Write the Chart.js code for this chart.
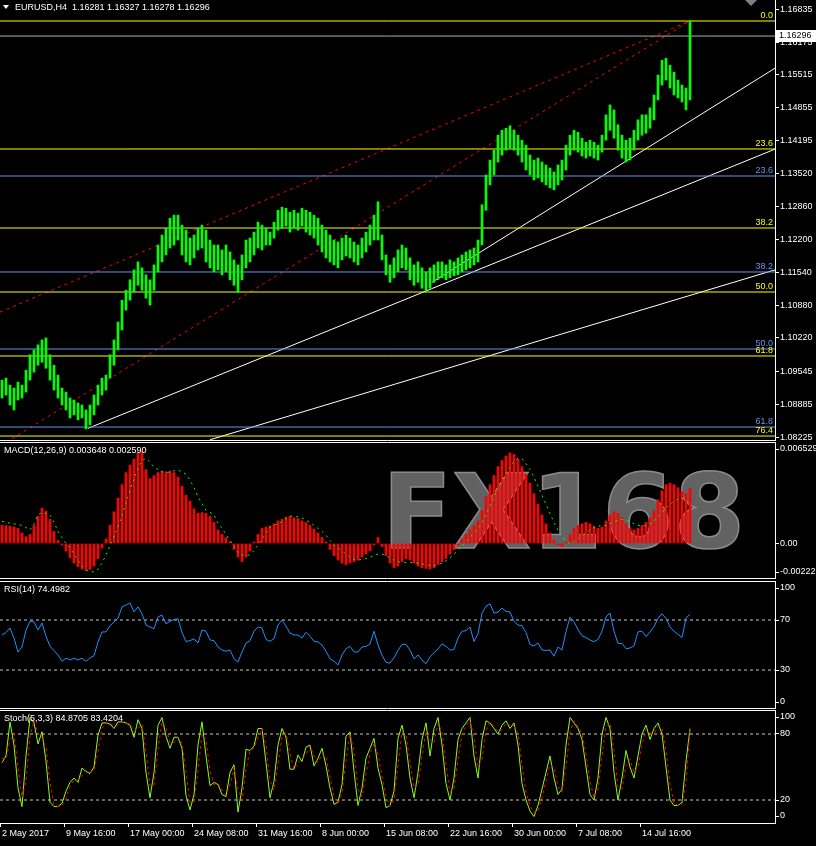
<!DOCTYPE html>
<html>
<head>
<meta charset="utf-8">
<title>EURUSD,H4</title>
<script src="https://cdn.jsdelivr.net/npm/chart.js@4.4.0/dist/chart.umd.min.js"></script>
<style>
  html, body { margin: 0; padding: 0; background: #000; }
  body { width: 816px; height: 846px; position: relative; overflow: hidden; }
  canvas { position: absolute; left: 0; }
</style>
</head>
<body>
<canvas id="price" width="816" height="441" style="top:0;width:816px;height:441px"></canvas>
<canvas id="macd" width="816" height="137" style="top:442px;width:816px;height:137px"></canvas>
<canvas id="rsi" width="816" height="128" style="top:581px;width:816px;height:128px"></canvas>
<canvas id="stoch" width="816" height="136" style="top:710px;width:816px;height:136px"></canvas>
<script>
// EURUSD H4, 2 May - 18 Jul 2017, one column = two H4 bars

const highs = [
  1.0937,1.0941,1.0927,1.0921,1.0933,1.0927,1.0957,1.0988,1.0998,1.1008,
  1.1018,1.1022,1.0988,1.0967,1.0947,1.0921,1.0913,1.0901,1.0897,1.0891,
  1.0887,1.0877,1.0887,1.0907,1.0927,1.0941,1.0947,1.0988,1.1018,1.1054,
  1.1098,1.1118,1.1139,1.1159,1.1175,1.1163,1.1149,1.1139,1.1169,1.1209,
  1.1229,1.1243,1.1263,1.1269,1.1269,1.1249,1.1239,1.1223,1.1229,1.1243,
  1.1249,1.1239,1.1219,1.1209,1.1209,1.1199,1.1209,1.1195,1.1179,1.1169,
  1.1189,1.1219,1.1223,1.1235,1.1255,1.1249,1.1243,1.1235,1.1255,1.1279,
  1.1285,1.1283,1.1275,1.1279,1.1273,1.1283,1.1279,1.1275,1.1269,1.1263,
  1.1249,1.1239,1.1229,1.1219,1.1215,1.1223,1.1229,1.1223,1.1215,1.1209,
  1.1223,1.1235,1.1249,1.1269,1.1296,1.1229,1.1189,1.1169,1.1183,1.1199,
  1.1209,1.1203,1.1183,1.1169,1.1175,1.1163,1.1155,1.1163,1.1169,1.1175,
  1.1175,1.1169,1.1179,1.1175,1.1183,1.1189,1.1195,1.1199,1.1203,1.1219,
  1.1290,1.1350,1.1380,1.1400,1.1430,1.1440,1.1444,1.1449,1.1440,1.1430,
  1.1420,1.1410,1.1390,1.1380,1.1384,1.1376,1.1370,1.1364,1.1356,1.1370,
  1.1380,1.1410,1.1430,1.1440,1.1436,1.1424,1.1416,1.1420,1.1416,1.1410,
  1.1430,1.1471,1.1491,1.1481,1.1451,1.1430,1.1420,1.1424,1.1440,1.1461,
  1.1471,1.1471,1.1485,1.1511,1.1551,1.1581,1.1585,1.1571,1.1557,1.1541,
  1.1531,1.1525,1.1660
];
const lows = [
  1.0901,1.0907,1.0887,1.0877,1.0897,1.0901,1.0913,1.0937,1.0953,1.0967,
  1.0973,1.0961,1.0937,1.0917,1.0901,1.0887,1.0877,1.0861,1.0867,1.0857,
  1.0861,1.0839,1.0847,1.0867,1.0887,1.0907,1.0917,1.0941,1.0967,1.0998,
  1.1038,1.1078,1.1098,1.1114,1.1128,1.1118,1.1102,1.1088,1.1118,1.1155,
  1.1175,1.1189,1.1203,1.1209,1.1219,1.1189,1.1175,1.1169,1.1183,1.1199,
  1.1203,1.1175,1.1163,1.1155,1.1159,1.1149,1.1155,1.1139,1.1128,1.1114,
  1.1139,1.1163,1.1175,1.1189,1.1203,1.1199,1.1209,1.1209,1.1223,1.1239,
  1.1243,1.1247,1.1235,1.1243,1.1239,1.1247,1.1235,1.1229,1.1223,1.1209,
  1.1195,1.1183,1.1175,1.1169,1.1163,1.1179,1.1187,1.1183,1.1175,1.1169,
  1.1183,1.1195,1.1209,1.1219,1.1219,1.1179,1.1149,1.1134,1.1143,1.1155,
  1.1163,1.1159,1.1139,1.1128,1.1134,1.1122,1.1118,1.1122,1.1134,1.1139,
  1.1143,1.1139,1.1143,1.1147,1.1149,1.1155,1.1159,1.1163,1.1169,1.1175,
  1.1209,1.1279,1.1330,1.1350,1.1376,1.1390,1.1400,1.1404,1.1400,1.1390,
  1.1376,1.1360,1.1350,1.1340,1.1344,1.1336,1.1330,1.1324,1.1320,1.1330,
  1.1340,1.1360,1.1390,1.1400,1.1396,1.1388,1.1384,1.1388,1.1384,1.1380,
  1.1396,1.1420,1.1440,1.1424,1.1400,1.1384,1.1376,1.1380,1.1400,1.1420,
  1.1430,1.1434,1.1444,1.1461,1.1501,1.1531,1.1541,1.1525,1.1511,1.1505,
  1.1497,1.1481,1.1501
];
const lastBar = [1.16281, 1.16327, 1.16278, 1.16296];   // O H L C
const priceTicks = [1.16835,1.16175,1.15515,1.14855,1.14195,1.13520,1.12860,
                    1.12200,1.11540,1.10880,1.10220,1.09545,1.08885,1.08225];

// fibo levels and trend lines (column index, price)
const fibYellow = [1.16599,1.14023,1.12432,1.11144,1.09856,1.08245];
const fibYellowText = ['0.0','23.6','38.2','50.0','61.8','76.4'];
const fibBlue = [1.13479,1.11547,1.09997,1.08426];
const fibBlueText = ['23.6','38.2','50.0','61.8'];
const trendWhite = [
  [[21.5, 1.0840], [193.25, 1.1402]],
  [[107.5, 1.1134], [193.25, 1.1565]],
  [[52, 1.0817], [193.25, 1.1159]]
];
const trendRed = [
  [[2.5, 1.0819], [172, 1.1660]],
  [[-0.5, 1.1074], [172, 1.1660]]
];

// MACD(12,26,9)
const macdHist = [
  0.00120,0.00118,0.00115,0.00110,0.00100,0.00070,0.00045,0.00060,0.00120,0.00180,
  0.00235,0.00215,0.00160,0.00080,0.00020,-0.00010,-0.00050,-0.00095,-0.00130,-0.00155,
  -0.00170,-0.00178,-0.00172,-0.00150,-0.00100,-0.00030,0.00030,0.00120,0.00210,0.00300,
  0.00390,0.00470,0.00520,0.00560,0.00600,0.00610,0.00490,0.00430,0.00450,0.00470,
  0.00480,0.00475,0.00480,0.00470,0.00440,0.00380,0.00320,0.00280,0.00230,0.00200,
  0.00205,0.00200,0.00180,0.00140,0.00090,0.00060,0.00040,0.00010,-0.00040,-0.00090,
  -0.00120,-0.00090,-0.00050,0.00010,0.00060,0.00100,0.00110,0.00115,0.00130,0.00150,
  0.00160,0.00175,0.00180,0.00170,0.00165,0.00150,0.00140,0.00120,0.00095,0.00070,
  0.00040,0.00010,-0.00040,-0.00080,-0.00110,-0.00130,-0.00140,-0.00130,-0.00120,-0.00110,
  -0.00090,-0.00070,-0.00050,-0.00010,0.00040,-0.00020,-0.00080,-0.00130,-0.00160,-0.00150,
  -0.00120,-0.00100,-0.00110,-0.00130,-0.00150,-0.00160,-0.00165,-0.00170,-0.00160,-0.00140,
  -0.00120,-0.00100,-0.00070,-0.00040,-0.00010,0.00030,0.00060,0.00090,0.00120,0.00150,
  0.00220,0.00310,0.00390,0.00450,0.00510,0.00550,0.00580,0.00600,0.00590,0.00560,
  0.00510,0.00460,0.00400,0.00330,0.00260,0.00190,0.00130,0.00070,0.00020,-0.00010,
  -0.00020,0.00010,0.00060,0.00100,0.00120,0.00130,0.00140,0.00130,0.00115,0.00100,
  0.00110,0.00150,0.00190,0.00210,0.00200,0.00170,0.00130,0.00100,0.00090,0.00100,
  0.00120,0.00140,0.00170,0.00220,0.00290,0.00350,0.00390,0.00400,0.00390,0.00370,
  0.00345,0.00330,0.00365
];
const macdSignal = [
  0.00147,0.00140,0.00135,0.00130,0.00125,0.00120,0.00105,0.00090,0.00130,0.00190,
  0.00205,0.00200,0.00189,0.00140,0.00080,0.00040,0.00000,-0.00030,-0.00070,-0.00110,
  -0.00150,-0.00178,-0.00185,-0.00189,-0.00170,-0.00130,-0.00075,-0.00017,0.00050,0.00110,
  0.00185,0.00270,0.00355,0.00430,0.00500,0.00550,0.00565,0.00540,0.00505,0.00490,
  0.00475,0.00467,0.00475,0.00482,0.00487,0.00475,0.00460,0.00420,0.00370,0.00310,
  0.00265,0.00220,0.00208,0.00190,0.00130,0.00100,0.00060,0.00023,-0.00020,-0.00060,
  -0.00076,-0.00078,-0.00076,-0.00045,-0.00010,0.00030,0.00065,0.00109,0.00120,0.00130,
  0.00145,0.00165,0.00182,0.00180,0.00177,0.00170,0.00155,0.00140,0.00120,0.00100,
  0.00080,0.00055,0.00020,-0.00010,-0.00030,-0.00050,-0.00070,-0.00090,-0.00105,-0.00110,
  -0.00105,-0.00100,-0.00090,-0.00080,-0.00070,-0.00070,-0.00080,-0.00095,-0.00110,-0.00120,
  -0.00125,-0.00125,-0.00125,-0.00128,-0.00130,-0.00135,-0.00140,-0.00145,-0.00145,-0.00140,
  -0.00130,-0.00115,-0.00095,-0.00070,-0.00045,-0.00020,0.00010,0.00040,0.00070,0.00100,
  0.00140,0.00190,0.00250,0.00310,0.00370,0.00420,0.00470,0.00510,0.00545,0.00565,
  0.00560,0.00530,0.00490,0.00440,0.00380,0.00320,0.00260,0.00200,0.00140,0.00090,
  0.00050,0.00015,0.00000,0.00010,0.00030,0.00050,0.00070,0.00090,0.00105,0.00115,
  0.00118,0.00120,0.00130,0.00145,0.00155,0.00160,0.00155,0.00145,0.00130,0.00120,
  0.00115,0.00120,0.00130,0.00150,0.00175,0.00205,0.00235,0.00260,0.00280,0.00295,
  0.00300,0.00290,0.00259
];
const macdLast = [0.003648, 0.002590];

// RSI(14)
const rsi = [
  58,60,63.6,55.5,44.4,48.4,62,69,68.5,62,
  67.6,57,49,45.5,42,37,39.5,38,39.5,38,
  39.5,37,39.6,41.5,52.4,60.4,60.5,65.5,68.4,71.6,
  80.4,82,83.6,76.5,80.5,75,66,64.4,63,72.4,
  74,67,69,70.5,71,60,52.8,53.5,55,51.6,
  62,61,54,53.5,48.4,46,45,46,39,36.4,
  44.4,51.6,53.5,61,64.4,63.6,54.5,53,55,66,
  70,65,59.5,58,58,55.6,60.2,57,53,52.4,
  50,45,39,37,34,42,47,49,44.5,44.4,
  48.4,48.9,50.8,61,50,42,36,35.6,39.7,45.7,
  50.5,50.5,46,39,42,38,35,40.5,43.8,46.8,
  51,49,46,46.4,55.6,61,61.5,64.4,52.8,59,
  75.5,81,83,75.5,76.4,79.5,76.8,76.4,69,66,
  65.4,60,50.4,49.3,51.6,46,45.7,46,41,48.4,
  46,60.7,72.4,68.5,62.3,57.4,56,54,52.7,54.5,
  61,72.5,75.6,61,51.3,51.3,47,47.6,49.4,60.5,
  61,56.8,60.4,64.7,71.3,75,71.4,64.4,61,58.5,
  56,71.6,74.4982
];
const rsiLevels = [70, 30];

// Stochastic(5,3,3)
const stochK = [
  54,60,91,70,31,14,60,95,90,71,
  82,55,18,14,14,17,28,36,40,36,
  49,46,44,50,79,90,90,89,85,91,
  91,90,88,77,93,85,45,22,45,88,
  95,78,67,77,77,67,24,11,25,70,
  91,60,33,36,34,25,23,45,52,9,
  31,66,65,69,85,85,54,22,37,70,
  85,77,48,48,61,55,68,70,51,58,
  67,51,31,16,18,34,78,82,46,15,
  31,58,67,76,49,34,13,15,28,76,
  88,70,40,22,45,75,90,60,85,95,
  70,35,20,40,75,85,90,95,60,40,
  75,92,90,85,80,88,92,85,90,70,
  35,20,10,5,15,30,45,60,40,25,
  30,70,95,90,85,75,50,25,20,40,
  80,95,85,45,20,40,65,50,40,60,
  80,88,75,85,90,80,50,20,15,15,
  18,55,84.8705
];
const stochD = [
  58,57,75,80,50,22,37,78,92,80,
  76,68,36,16,14,15,22,32,38,38,
  42,47,45,47,64,85,90,90,87,88,
  91,90,89,82,85,89,65,33,33,66,
  91,86,72,72,77,72,45,18,18,47,
  80,75,47,34,35,29,24,34,48,30,
  20,48,65,67,77,85,70,38,29,53,
  77,81,62,48,54,58,61,69,60,54,
  62,59,41,23,17,26,56,80,64,30,
  23,44,62,71,62,41,23,14,21,52,
  82,79,55,31,33,60,82,75,72,90,
  82,52,27,30,57,80,87,92,77,50,
  57,83,91,87,82,84,90,88,87,80,
  52,27,15,8,10,22,37,52,50,32,
  27,50,82,92,87,80,62,37,22,30,
  60,87,90,65,32,30,52,57,45,50,
  70,84,81,80,87,85,65,35,17,15,
  16,36,83.4204
];
const stochLevels = [80, 20];

const dateLabels = ['2 May 2017','9 May 16:00','17 May 00:00','24 May 08:00','31 May 16:00',
  '8 Jun 00:00','15 Jun 08:00','22 Jun 16:00','30 Jun 00:00','7 Jul 08:00','14 Jul 16:00'];
const COLS_PER_LABEL = 16;

// ---------------------------------------------------------------
const X_MIN = -0.5, X_MAX = 193.25;
const FONT = "'Liberation Sans', Arial, sans-serif";
const TXT = "9px " + FONT;

Chart.defaults.font.family = FONT;
Chart.defaults.font.size = 9;
Chart.defaults.color = '#ffffff';

const pts = arr => arr.map((v, j) => ({x: j, y: v}));
const hline = (v, color, dash) => ({
  type: 'line', data: [{x: X_MIN, y: v}, {x: X_MAX, y: v}],
  borderColor: color, borderWidth: 1, borderDash: dash || [], pointRadius: 0
});
const seg = (p, color, dash) => ({
  type: 'line', data: p.map(q => ({x: q[0], y: q[1]})),
  borderColor: color, borderWidth: 1, borderDash: dash || [], pointRadius: 0
});
const line = (arr, color, dash) => ({
  type: 'line', data: pts(arr), borderColor: color, borderWidth: 1,
  borderDash: dash || [], pointRadius: 0, tension: 0
});

function hiddenX() {
  return {type: 'linear', min: X_MIN, max: X_MAX, offset: false, display: false};
}

function yAxis(min, max, values, fmt) {
  return {
    type: 'linear', position: 'right', min: min, max: max,
    afterBuildTicks: s => { s.ticks = values.map(v => ({value: v})); },
    afterFit: s => { s.width = 41; s.paddingTop = 0; s.paddingBottom = 0; },
    ticks: {autoSkip: false, padding: 1, color: '#ffffff', callback: v => fmt(v)},
    grid: {drawOnChartArea: false, tickLength: 4, color: '#ffffff'},
    border: {display: true, color: '#ffffff'}
  };
}

// white separators above / below each panel
const frame = {
  id: 'frame',
  defaults: {top: true, bottom: true},
  afterDraw(chart, args, o) {
    const {ctx, chartArea: a} = chart;
    ctx.save();
    ctx.strokeStyle = '#ffffff';
    ctx.lineWidth = 1;
    ctx.beginPath();
    if (o.top) { ctx.moveTo(0, a.top + 0.5); ctx.lineTo(a.right, a.top + 0.5); }
    if (o.bottom) { ctx.moveTo(0, a.bottom - 0.5); ctx.lineTo(a.right, a.bottom - 0.5); }
    ctx.stroke();
    ctx.restore();
  }
};

// indicator name in the top left corner
const caption = {
  id: 'caption',
  afterDraw(chart, args, o) {
    if (!o.text) return;
    const {ctx, chartArea: a} = chart;
    ctx.save();
    ctx.font = TXT;
    ctx.fillStyle = '#ffffff';
    ctx.textBaseline = 'middle';
    ctx.fillText(o.text, o.x, a.top + o.dy);
    ctx.restore();
  }
};

// min / max labels of indicator windows, pushed inside the panel
const edgeLabels = {
  id: 'edgeLabels',
  afterDraw(chart, args, o) {
    if (!o.items) return;
    const {ctx, chartArea: a} = chart;
    ctx.save();
    ctx.font = TXT;
    ctx.fillStyle = '#ffffff';
    ctx.strokeStyle = '#ffffff';
    ctx.textBaseline = 'middle';
    o.items.forEach(it => {
      const yy = it.top ? a.top + 7 : a.bottom - 7;
      ctx.beginPath();
      ctx.moveTo(a.right, yy + 0.5);
      ctx.lineTo(a.right + 4, yy + 0.5);
      ctx.stroke();
      ctx.fillText(it.text, a.right + 5, yy);
    });
    ctx.restore();
  }
};
Chart.register(frame, caption, edgeLabels);

// ---------------- price window ----------------
const priceExtras = {
  id: 'priceExtras',
  afterDatasetsDraw(chart) {
    const {ctx, chartArea: a, scales: {y}} = chart;
    ctx.save();
    ctx.font = TXT;
    ctx.textAlign = 'right';
    ctx.textBaseline = 'bottom';
    ctx.fillStyle = '#ffff00';
    fibYellow.forEach((v, i) => ctx.fillText(fibYellowText[i], a.right - 2, y.getPixelForValue(v) - 1));
    ctx.fillStyle = '#6495ed';
    fibBlue.forEach((v, i) => ctx.fillText(fibBlueText[i], a.right - 2, y.getPixelForValue(v) - 1));
    ctx.restore();
  },
  afterDraw(chart) {
    const {ctx, chartArea: a, scales: {y}} = chart;
    ctx.save();
    // title
    ctx.fillStyle = '#ffffff';
    ctx.beginPath();
    ctx.moveTo(3, 5); ctx.lineTo(9, 5); ctx.lineTo(6, 9); ctx.closePath();
    ctx.fill();
    ctx.font = TXT;
    ctx.textBaseline = 'middle';
    ctx.fillText('EURUSD,H4  ' + lastBar.map(v => v.toFixed(5)).join(' '), 15, 8);
    // chart shift marker
    ctx.fillStyle = '#808080';
    ctx.beginPath();
    ctx.moveTo(745, 0); ctx.lineTo(757, 0); ctx.lineTo(751, 6); ctx.closePath();
    ctx.fill();
    // bid price box
    const bid = lastBar[3];
    const yy = Math.round(y.getPixelForValue(bid));
    ctx.fillStyle = '#ffffff';
    ctx.fillRect(a.right + 1, yy - 6, 40, 12);
    ctx.fillStyle = '#000000';
    ctx.fillText(bid.toFixed(5), a.right + 4, yy);
    ctx.restore();
  }
};

const priceSets = [
  {type: 'bar', data: highs.map((h, j) => ({x: j, y: [lows[j], h]})),
   backgroundColor: '#00ff00', borderWidth: 0, barThickness: 2, grouped: false},
  hline(lastBar[3], '#a8b0b8')
];
fibYellow.forEach(v => priceSets.push(hline(v, '#ffff00')));
fibBlue.forEach(v => priceSets.push(hline(v, '#6495ed')));
trendWhite.forEach(p => priceSets.push(seg(p, '#ffffff')));
trendRed.forEach(p => priceSets.push(seg(p, '#ff0000', [3, 4])));

new Chart(document.getElementById('price'), {
  type: 'bar',
  data: {datasets: priceSets},
  plugins: [priceExtras],
  options: {
    responsive: false, animation: false, devicePixelRatio: 1,
    layout: {padding: 0},
    plugins: {legend: {display: false}, tooltip: {enabled: false}, frame: {top: false, bottom: true}},
    scales: {
      x: hiddenX(),
      y: yAxis(1.08145, 1.17022, priceTicks, v => v.toFixed(5))
    }
  }
});

// ---------------- MACD window ----------------
const watermark = {
  id: 'watermark',
  beforeDatasetsDraw(chart) {
    const {ctx} = chart;
    ctx.save();
    ctx.font = 'bold 100px ' + "'DejaVu Sans', sans-serif";
    const w = ctx.measureText('FX168').width;
    ctx.translate(382, 106);
    ctx.scale(363 / w, 1.04);
    ctx.fillStyle = '#626262';
    ctx.strokeStyle = '#8a8a8a';
    ctx.lineWidth = 1.5;
    ctx.fillText('FX168', 0, 0);
    ctx.strokeText('FX168', 0, 0);
    ctx.restore();
  }
};

new Chart(document.getElementById('macd'), {
  type: 'bar',
  data: {datasets: [
    line(macdSignal, '#00ff00', [2, 4]),
    {type: 'bar', data: pts(macdHist), backgroundColor: '#ff0000', borderWidth: 0, barThickness: 2, grouped: false}
  ]},
  plugins: [watermark],
  options: {
    responsive: false, animation: false, devicePixelRatio: 1,
    layout: {padding: 0},
    plugins: {
      legend: {display: false}, tooltip: {enabled: false},
      caption: {text: 'MACD(12,26,9) ' + macdLast.map(v => v.toFixed(6)).join(' '), x: 4, dy: 9},
      edgeLabels: {items: [{top: true, text: '0.006529'}, {top: false, text: '-0.002228'}]}
    },
    scales: {
      x: hiddenX(),
      y: yAxis(-0.002354, 0.006729, [0], v => v.toFixed(2))
    }
  }
});

// ---------------- RSI window ----------------
new Chart(document.getElementById('rsi'), {
  type: 'line',
  data: {datasets: [
    line(rsi, '#1e90ff'),
    hline(rsiLevels[0], '#c8c8c8', [3, 3]),
    hline(rsiLevels[1], '#c8c8c8', [3, 3])
  ]},
  options: {
    responsive: false, animation: false, devicePixelRatio: 1,
    layout: {padding: 0},
    plugins: {
      legend: {display: false}, tooltip: {enabled: false},
      caption: {text: 'RSI(14) ' + rsi[rsi.length - 1].toFixed(4), x: 4, dy: 9},
      edgeLabels: {items: [{top: true, text: '100'}, {top: false, text: '0'}]}
    },
    scales: {
      x: hiddenX(),
      y: yAxis(-1.2, 101.2, rsiLevels, v => String(v))
    }
  }
});

// ---------------- Stochastic window ----------------
new Chart(document.getElementById('stoch'), {
  type: 'line',
  data: {datasets: [
    line(stochD, '#ff0000', [3, 3]),
    line(stochK, '#8cff10'),
    hline(stochLevels[0], '#c8c8c8', [3, 3]),
    hline(stochLevels[1], '#c8c8c8', [3, 3])
  ]},
  options: {
    responsive: false, animation: false, devicePixelRatio: 1,
    layout: {padding: 0},
    plugins: {
      legend: {display: false}, tooltip: {enabled: false},
      frame: {top: true, bottom: false},
      caption: {text: 'Stoch(5,3,3) ' + stochK[stochK.length - 1].toFixed(4) + ' ' + stochD[stochD.length - 1].toFixed(4), x: 4, dy: 9},
      edgeLabels: {items: [{top: true, text: '100'}, {top: false, text: '0'}]}
    },
    scales: {
      x: {
        type: 'linear', min: X_MIN, max: X_MAX, offset: false, position: 'bottom',
        afterBuildTicks: s => { s.ticks = dateLabels.map((t, k) => ({value: X_MIN + k * COLS_PER_LABEL})); },
        afterFit: s => { s.height = 23; s.paddingLeft = 0; s.paddingRight = 0; },
        ticks: {autoSkip: false, maxRotation: 0, align: 'start', labelOffset: 2, padding: 1,
                color: '#ffffff', callback: (v, i) => dateLabels[i]},
        grid: {drawOnChartArea: false, tickLength: 4, color: '#ffffff'},
        border: {display: true, color: '#ffffff'}
      },
      y: yAxis(-0.9, 101.8, stochLevels, v => String(v))
    }
  }
});
</script>
</body>
</html>
